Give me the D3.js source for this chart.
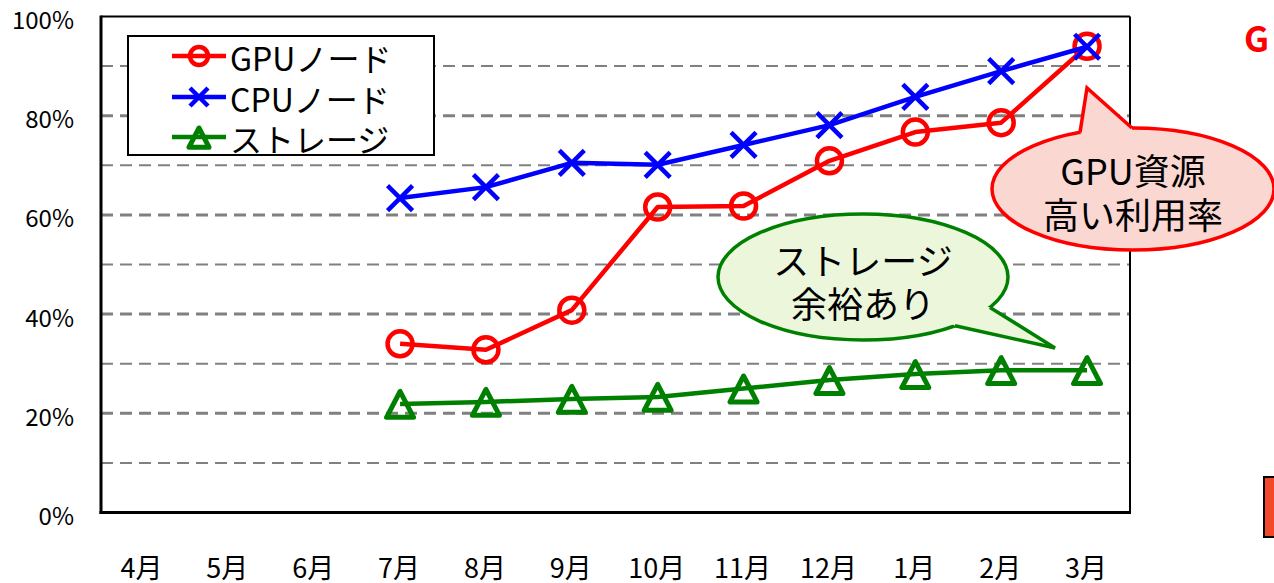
<!DOCTYPE html>
<html><head><meta charset="utf-8">
<script src="https://cdn.jsdelivr.net/npm/d3@7"></script>
<style>html,body{margin:0;padding:0;background:#fff;}svg{display:block;}</style>
</head><body>
<svg id="c" width="1274" height="583"></svg>
<script>
const months = ["4月","5月","6月","7月","8月","9月","10月","11月","12月","1月","2月","3月"];
const gpuValues = [null,null,null,34.0,32.8,40.8,61.6,61.8,70.9,76.7,78.6,94.0];
const cpuValues = [null,null,null,63.4,65.6,70.5,70.1,74.1,78.1,83.8,89.0,93.9];
const storageValues = [null,null,null,21.9,22.3,22.9,23.3,25.0,26.7,27.9,28.7,28.7];
const yTicks = [0,20,40,60,80,100];
const gridValues = [10,20,30,40,50,60,70,80,90];
const seriesNames = ["GPUノード","CPUノード","ストレージ"];
const gpuNote = ["GPU資源","高い利用率"];
const storageNote = ["ストレージ","余裕あり"];

const FONT = "'Noto Sans CJK JP','Noto Sans',sans-serif";
const svg = d3.select("#c");
const L = 101, R = 1130, T = 16.5, B = 512.5;
const x = d3.scalePoint().domain(months).range([99.5, 1130]).padding(0.5);
const y = d3.scaleLinear().domain([0,100]).range([B, T]);

// gridlines
svg.append("g").selectAll("line").data(gridValues).join("line")
  .attr("x1", L).attr("x2", R).attr("y1", d=>y(d)).attr("y2", d=>y(d))
  .attr("stroke", "#808080").attr("stroke-width", d => d%20===0 ? 3 : 2)
  .attr("stroke-dasharray", "12,7");

// frame
svg.append("line").attr("x1",L).attr("x2",R).attr("y1",T).attr("y2",T).attr("stroke","#000").attr("stroke-width",2);
svg.append("line").attr("x1",R).attr("x2",R).attr("y1",T).attr("y2",B).attr("stroke","#000").attr("stroke-width",2);
svg.append("line").attr("x1",L).attr("x2",L).attr("y1",T-1).attr("y2",B+1.5).attr("stroke","#000").attr("stroke-width",3);
svg.append("line").attr("x1",L-1.5).attr("x2",R+1).attr("y1",B).attr("y2",B).attr("stroke","#000").attr("stroke-width",3);

// y labels
svg.append("g").selectAll("text").data(yTicks).join("text")
  .attr("x", 74).attr("y", d=>y(d)+2).attr("text-anchor","end")
  .attr("dominant-baseline","central")
  .attr("font-family", FONT).attr("font-size", 24).attr("fill","#000")
  .text(d => d + "%");

// x labels
svg.append("g").selectAll("text").data(months).join("text")
  .attr("x", d=>x(d)-1).attr("y", 566).attr("text-anchor","middle")
  .attr("dominant-baseline","central")
  .attr("font-family", FONT).attr("font-size", 27).attr("fill","#000")
  .text(d => d);

function drawSeries(vals, color) {
  const pts = months.map((m,i)=>({m, v: vals[i]})).filter(d=>d.v!=null);
  svg.append("path").datum(pts)
    .attr("d", d3.line().x(d=>x(d.m)).y(d=>y(d.v)))
    .attr("fill","none").attr("stroke",color).attr("stroke-width",4.5)
    .attr("stroke-linejoin","round");
  return pts;
}
function circleMarker(g, cx, cy, r, color) {
  g.append("circle").attr("cx",cx).attr("cy",cy).attr("r",r)
    .attr("fill","none").attr("stroke",color).attr("stroke-width",4.5);
}
function crossMarker(g, cx, cy, s, color) {
  g.append("path").attr("d", `M${cx-s},${cy-s}L${cx+s},${cy+s}M${cx-s},${cy+s}L${cx+s},${cy-s}`)
    .attr("stroke",color).attr("stroke-width",4.5).attr("fill","none");
}
function triMarker(g, cx, cy, s, color) {
  g.append("path").attr("d", `M${cx},${cy-s}L${cx-s},${cy+s*0.92}L${cx+s},${cy+s*0.92}Z`)
    .attr("stroke",color).attr("stroke-width",5).attr("fill","none").attr("stroke-linejoin","round");
}

const RED = "#ff0000", BLUE = "#0000ff", GREEN = "#008000";
const sp = drawSeries(storageValues, GREEN);
const gs = svg.append("g");
sp.forEach(d => triMarker(gs, x(d.m), y(d.v)+1, 13.5, GREEN));
const gp = drawSeries(gpuValues, RED);
const gg = svg.append("g");
gp.forEach(d => circleMarker(gg, x(d.m), y(d.v), 12.5, RED));
const cp = drawSeries(cpuValues, BLUE);
const cg = svg.append("g");
cp.forEach(d => crossMarker(cg, x(d.m), y(d.v), 12.5, BLUE));

// legend
const lg = svg.append("g");
lg.append("rect").attr("x",128).attr("y",36).attr("width",306).attr("height",119)
  .attr("fill","#fff").attr("stroke","#000").attr("stroke-width",2);
const legendRows = [
  {name: seriesNames[0], color: RED, y: 56, mk: (g,cx,cy)=>circleMarker(g,cx,cy,9,RED)},
  {name: seriesNames[1], color: BLUE, y: 97, mk: (g,cx,cy)=>crossMarker(g,cx,cy,9,BLUE)},
  {name: seriesNames[2], color: GREEN, y: 137, mk: (g,cx,cy)=>triMarker(g,cx,cy+1,10,GREEN)}
];
legendRows.forEach(r => {
  lg.append("line").attr("x1",172).attr("x2",226).attr("y1",r.y).attr("y2",r.y)
    .attr("stroke",r.color).attr("stroke-width",4.5);
  r.mk(lg, 199, r.y);
  lg.append("text").attr("x",230).attr("y",r.y+1).attr("dominant-baseline","central")
    .attr("font-family",FONT).attr("font-size",32).attr("fill","#000").text(r.name);
});

// callouts
function callout(cx, cy, rx, ry, tail, fill, stroke, lines, fs, lineY) {
  const g = svg.append("g");
  g.append("ellipse").attr("cx",cx).attr("cy",cy).attr("rx",rx).attr("ry",ry)
    .attr("fill",fill).attr("stroke",stroke).attr("stroke-width",3.5);
  // tail fill (extending into ellipse to hide stroke)
  const [a, tip, b] = tail;
  const ia = [a[0] + (cx-a[0])*0.06, a[1] + (cy-a[1])*0.06];
  const ib = [b[0] + (cx-b[0])*0.06, b[1] + (cy-b[1])*0.06];
  g.append("path").attr("d", `M${ia}L${a}L${tip}L${b}L${ib}Z`).attr("fill",fill).attr("stroke","none");
  g.append("path").attr("d", `M${a}L${tip}L${b}`).attr("fill","none").attr("stroke",stroke)
    .attr("stroke-width",3.5).attr("stroke-linejoin","miter");
  lines.forEach((t,i) => g.append("text").attr("x",cx).attr("y",lineY[i])
    .attr("text-anchor","middle").attr("dominant-baseline","central")
    .attr("font-family",FONT).attr("font-size",fs).attr("fill","#000").text(t));
}
callout(863, 277, 145, 63, [[990,307.4],[1055,348],[955,325.7]], "#ebf6da", GREEN, storageNote, 36, [259, 302]);
callout(1133, 189, 141, 61, [[1080,132.5],[1087,88],[1132,128]], "#fbd7d2", RED, gpuNote, 36, [169, 213]);

// partial elements at right edge
svg.append("text").attr("x",1244).attr("y",52).attr("font-family",FONT).attr("font-weight","bold")
  .attr("font-size",35).attr("fill",RED).text("G");
svg.append("rect").attr("x",1264).attr("y",477).attr("width",20).attr("height",60)
  .attr("fill","#f04a2a").attr("stroke","#000").attr("stroke-width",2);
</script>
</body></html>
